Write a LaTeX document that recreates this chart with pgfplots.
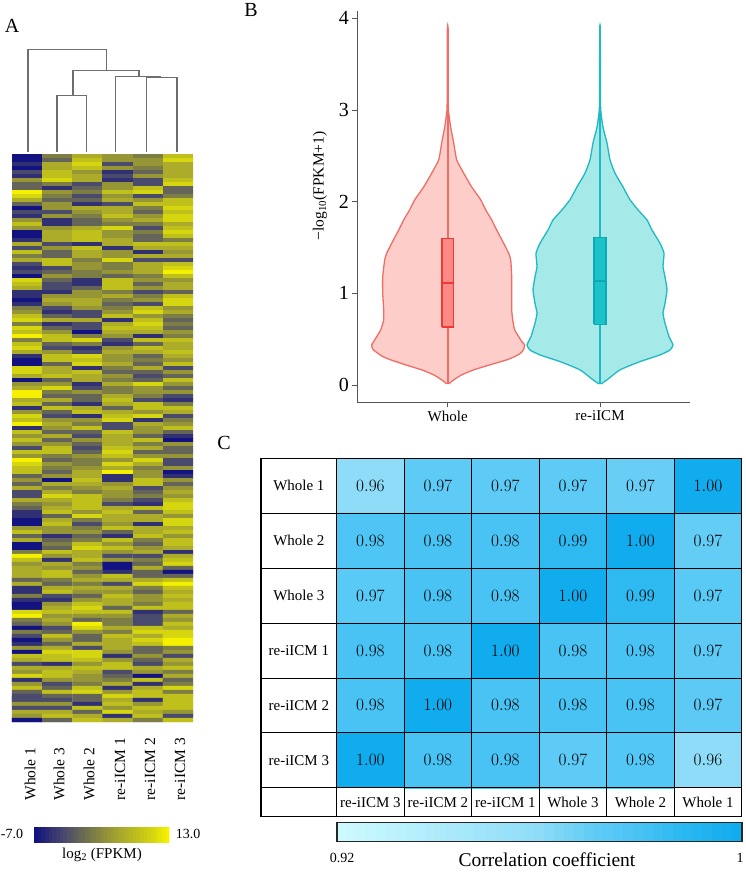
\documentclass[border=0pt]{standalone}
\usepackage{fontspec}
\setmainfont{Liberation Serif}
\usepackage{pgfplots}
\usepackage{pgfplotstable}
\pgfplotsset{compat=1.18}

\definecolor{wfill}{HTML}{FDCDC9}
\definecolor{wline}{HTML}{EE6E66}
\definecolor{wbox}{HTML}{FF8A85}
\definecolor{wmed}{HTML}{EC3A38}
\definecolor{rfill}{HTML}{A6E9E9}
\definecolor{rline}{HTML}{20B8C2}
\definecolor{rbox}{HTML}{18C4C8}
\definecolor{rmed}{HTML}{0FA8B0}
\definecolor{spine}{HTML}{555555}
\definecolor{dend}{HTML}{6E6E6E}

\pgfplotsset{
  colormap={heat}{rgb255=(18,18,128) rgb255=(48,48,115) rgb255=(74,74,108) rgb255=(100,100,88)
    rgb255=(125,125,70) rgb255=(150,150,54) rgb255=(172,172,42) rgb255=(192,192,28)
    rgb255=(214,214,16) rgb255=(244,240,0)},
  colormap={corr}{rgb255(0pt)=(204,250,255); rgb255(40pt)=(143,220,248); rgb255(50pt)=(100,205,246);
    rgb255(60pt)=(72,195,244); rgb255(70pt)=(40,183,240); rgb255(80pt)=(16,172,237)},
}

% colour keys, two rows of samples each
\pgfplotstableread[row sep=crcr]{
v\\
0\\0.25\\0.5\\0.75\\1\\1.25\\1.5\\1.75\\2\\2.25\\2.5\\2.75\\3\\3.25\\3.5\\3.75\\4\\4.25\\4.5\\4.75\\5\\5.25\\5.5\\5.75\\6\\6.25\\6.5\\6.75\\7\\7.25\\7.5\\7.75\\8\\8.25\\8.5\\8.75\\9\\
0\\0.25\\0.5\\0.75\\1\\1.25\\1.5\\1.75\\2\\2.25\\2.5\\2.75\\3\\3.25\\3.5\\3.75\\4\\4.25\\4.5\\4.75\\5\\5.25\\5.5\\5.75\\6\\6.25\\6.5\\6.75\\7\\7.25\\7.5\\7.75\\8\\8.25\\8.5\\8.75\\9\\
}\heatkey

\pgfplotstableread[row sep=crcr]{
v\\
0.92\\0.922\\0.924\\0.926\\0.928\\0.93\\0.932\\0.934\\0.936\\0.938\\0.94\\0.942\\0.944\\0.946\\0.948\\0.95\\0.952\\0.954\\0.956\\0.958\\0.96\\0.962\\0.964\\0.966\\0.968\\0.97\\0.972\\0.974\\0.976\\0.978\\0.98\\0.982\\0.984\\0.986\\0.988\\0.99\\0.992\\0.994\\0.996\\0.998\\1\\
0.92\\0.922\\0.924\\0.926\\0.928\\0.93\\0.932\\0.934\\0.936\\0.938\\0.94\\0.942\\0.944\\0.946\\0.948\\0.95\\0.952\\0.954\\0.956\\0.958\\0.96\\0.962\\0.964\\0.966\\0.968\\0.97\\0.972\\0.974\\0.976\\0.978\\0.98\\0.982\\0.984\\0.986\\0.988\\0.99\\0.992\\0.994\\0.996\\0.998\\1\\
}\corrkey

% heatmap, read row by row (6 columns per row), 0 = navy ... 9 = yellow
\pgfplotstableread[row sep=crcr]{
v\\
0\\4\\6\\5\\4\\7\\
0\\3\\7\\5\\5\\8\\
1\\6\\8\\2\\5\\6\\
0\\6\\7\\5\\4\\6\\
2\\7\\5\\1\\3\\6\\
1\\7\\6\\2\\5\\6\\
5\\8\\6\\1\\2\\7\\
3\\4\\2\\5\\2\\8\\
3\\1\\3\\5\\7\\3\\
9\\5\\4\\7\\8\\3\\
8\\4\\2\\5\\2\\4\\
6\\3\\3\\6\\5\\7\\
3\\5\\1\\2\\7\\7\\
0\\5\\6\\6\\4\\8\\
2\\2\\5\\6\\3\\7\\
1\\5\\4\\7\\5\\8\\
5\\1\\3\\5\\6\\8\\
7\\1\\3\\4\\4\\6\\
5\\5\\6\\8\\2\\7\\
0\\6\\7\\5\\4\\8\\
0\\6\\7\\5\\3\\7\\
1\\6\\7\\6\\3\\4\\
6\\2\\1\\6\\7\\7\\
2\\5\\7\\1\\6\\6\\
7\\3\\6\\5\\1\\5\\
4\\3\\6\\5\\6\\6\\
6\\7\\4\\8\\2\\2\\
2\\7\\5\\4\\6\\7\\
1\\2\\5\\4\\6\\8\\
2\\3\\4\\5\\6\\9\\
0\\5\\4\\3\\4\\7\\
8\\3\\1\\7\\5\\5\\
7\\2\\1\\7\\3\\6\\
6\\2\\3\\7\\5\\6\\
1\\1\\5\\4\\2\\3\\
1\\5\\5\\6\\4\\7\\
0\\6\\6\\4\\5\\8\\
1\\5\\6\\3\\2\\8\\
4\\2\\5\\4\\7\\5\\
5\\1\\2\\5\\8\\6\\
7\\3\\2\\7\\5\\4\\
8\\6\\6\\1\\7\\3\\
4\\1\\2\\6\\8\\4\\
8\\3\\2\\7\\7\\3\\
7\\5\\0\\6\\6\\5\\
9\\7\\4\\5\\1\\4\\
4\\7\\8\\2\\7\\7\\
7\\3\\4\\1\\3\\6\\
8\\2\\1\\5\\7\\6\\
6\\5\\2\\6\\6\\7\\
1\\7\\8\\5\\3\\6\\
0\\7\\7\\5\\4\\5\\
0\\3\\8\\6\\3\\7\\
8\\6\\1\\4\\6\\2\\
8\\6\\7\\3\\3\\5\\
6\\7\\6\\5\\2\\3\\
0\\3\\6\\4\\3\\7\\
5\\5\\1\\6\\8\\5\\
6\\8\\2\\4\\5\\3\\
9\\4\\5\\4\\5\\5\\
9\\3\\3\\6\\4\\2\\
6\\6\\3\\7\\2\\1\\
7\\3\\1\\6\\7\\4\\
1\\7\\6\\3\\7\\7\\
5\\3\\7\\6\\5\\6\\
8\\2\\1\\7\\8\\2\\
7\\5\\5\\8\\1\\4\\
9\\6\\4\\2\\6\\5\\
1\\5\\7\\2\\5\\7\\
7\\3\\3\\7\\5\\3\\
5\\6\\2\\6\\3\\1\\
7\\3\\5\\6\\7\\0\\
5\\5\\3\\6\\4\\5\\
2\\7\\2\\7\\6\\3\\
7\\7\\3\\8\\3\\3\\
5\\4\\5\\7\\5\\5\\
9\\3\\4\\5\\8\\2\\
8\\5\\4\\8\\6\\2\\
7\\4\\5\\6\\4\\5\\
7\\3\\6\\9\\5\\0\\
3\\5\\6\\1\\5\\1\\
5\\0\\7\\1\\7\\5\\
3\\6\\6\\5\\7\\3\\
6\\4\\5\\6\\2\\5\\
2\\6\\4\\5\\3\\6\\
2\\8\\7\\5\\4\\5\\
6\\6\\7\\4\\2\\7\\
4\\5\\7\\2\\1\\8\\
3\\6\\7\\6\\7\\8\\
1\\7\\5\\7\\3\\7\\
1\\3\\8\\6\\6\\5\\
0\\6\\4\\6\\6\\8\\
0\\7\\2\\5\\1\\8\\
5\\5\\4\\7\\6\\6\\
7\\5\\5\\3\\6\\7\\
3\\1\\3\\1\\7\\5\\
6\\3\\4\\7\\4\\7\\
0\\4\\7\\5\\3\\7\\
0\\3\\8\\7\\5\\6\\
4\\7\\6\\5\\6\\1\\
9\\5\\6\\2\\2\\6\\
7\\1\\7\\5\\4\\7\\
5\\6\\4\\0\\3\\8\\
6\\5\\5\\0\\6\\3\\
6\\7\\3\\1\\3\\0\\
6\\7\\5\\7\\3\\3\\
3\\4\\6\\6\\6\\7\\
6\\3\\4\\2\\8\\9\\
1\\6\\6\\6\\4\\7\\
1\\7\\5\\5\\3\\6\\
4\\2\\3\\7\\5\\7\\
1\\1\\5\\6\\5\\6\\
0\\5\\7\\6\\4\\7\\
0\\6\\8\\3\\7\\7\\
8\\7\\7\\7\\1\\3\\
9\\5\\5\\5\\2\\6\\
4\\6\\3\\4\\2\\5\\
3\\5\\9\\4\\2\\7\\
0\\2\\8\\6\\7\\6\\
4\\3\\5\\4\\8\\8\\
2\\7\\3\\7\\6\\8\\
0\\5\\3\\6\\8\\9\\
1\\3\\6\\6\\7\\9\\
5\\6\\2\\6\\3\\4\\
0\\8\\8\\5\\3\\5\\
7\\7\\8\\1\\5\\2\\
6\\7\\7\\5\\3\\6\\
2\\1\\5\\7\\2\\5\\
6\\6\\7\\7\\6\\7\\
5\\7\\6\\2\\5\\4\\
8\\7\\5\\3\\0\\6\\
1\\5\\5\\4\\7\\3\\
5\\2\\4\\6\\1\\4\\
7\\3\\7\\1\\6\\8\\
3\\7\\8\\5\\7\\4\\
2\\3\\3\\8\\7\\7\\
2\\2\\3\\6\\1\\7\\
5\\5\\1\\7\\5\\7\\
2\\2\\7\\5\\7\\7\\
6\\6\\3\\8\\6\\5\\
5\\7\\6\\1\\7\\2\\
0\\3\\7\\6\\4\\7\\
}\heatdata

% violin outlines: half width in px from the centre, value
\pgfplotstableread{
x y
1 0.01
6 0.055
14 0.109
26 0.164
42 0.218
59 0.273
67 0.309
73 0.346
76 0.389
77 0.436
74 0.473
71 0.527
67 0.6
65 0.709
64 0.818
64 1.0
64 1.18
63 1.364
61 1.436
56 1.545
49 1.69
44 1.8
38 1.91
33 2.02
24 2.16
16 2.31
9 2.455
6 2.64
3 2.81
1 2.97
0.6 3.03
0.4 3.29
0.3 3.89
-0.3 3.89
-0.4 3.29
-0.6 3.03
-1 2.97
-3 2.81
-6 2.64
-9 2.455
-16 2.31
-24 2.16
-33 2.02
-38 1.91
-44 1.8
-49 1.69
-56 1.545
-61 1.436
-63 1.364
-65 1.18
-65 1.0
-64 0.818
-64 0.709
-67 0.6
-71 0.527
-74 0.473
-76 0.436
-75 0.389
-70 0.346
-65 0.309
-57 0.273
-42 0.218
-26 0.164
-14 0.109
-6 0.055
-1 0.01
}\violinwhole

\pgfplotstableread{
x y
1 0.01
7 0.055
20 0.164
40 0.254
60 0.327
70 0.38
73 0.436
69 0.527
65 0.673
63 0.782
65 0.89
67 1.036
65 1.18
63 1.29
64 1.436
60 1.545
52 1.69
47 1.8
38 1.91
30 2.02
23 2.16
15 2.31
10 2.455
7 2.64
3 2.81
1 2.97
0.6 3.03
0.4 3.29
0.3 3.89
-0.3 3.89
-0.4 3.29
-0.6 3.03
-1 2.97
-3 2.81
-7 2.64
-10 2.455
-15 2.31
-23 2.16
-30 2.02
-38 1.91
-47 1.8
-52 1.69
-60 1.545
-64 1.436
-63 1.29
-65 1.18
-67 1.036
-65 0.89
-63 0.782
-65 0.673
-69 0.527
-73 0.436
-70 0.38
-60 0.327
-40 0.254
-20 0.164
-7 0.055
-1 0.01
}\violinre

% correlation matrix, column, row, value
\pgfplotstableread{
x y v
0 0 0.96
1 0 0.972
2 0 0.972
3 0 0.972
4 0 0.969
5 0 1.0
0 1 0.978
1 1 0.98
2 1 0.98
3 1 0.988
4 1 1.0
5 1 0.97
0 2 0.974
1 2 0.98
2 2 0.98
3 2 1.0
4 2 0.988
5 2 0.974
0 3 0.98
1 3 0.98
2 3 1.0
3 3 0.98
4 3 0.98
5 3 0.973
0 4 0.98
1 4 1.0
2 4 0.98
3 4 0.98
4 4 0.98
5 4 0.973
0 5 1.0
1 5 0.98
2 5 0.98
3 5 0.972
4 5 0.976
5 5 0.96
}\corrdata

\begin{document}
\begin{tikzpicture}
\useasboundingbox (0pt,0pt) rectangle (745pt,872pt);

% A: heatmap
\begin{axis}[
  at={(12pt,150pt)}, anchor=south west,
  scale only axis, width=181pt, height=568pt,
  hide axis,
  xmin=-0.5, xmax=5.5, ymin=-0.5, ymax=141.5, y dir=reverse,
  colormap name=heat, point meta min=0, point meta max=9,
]
\addplot[matrix plot*, mesh/cols=6, point meta=explicit, draw=mapped color, line width=0.1pt]
  table[x index=0, y index=0, x expr={mod(\coordindex,6)}, y expr={floor((\coordindex+0.5)/6)}, meta=v] {\heatdata};
\end{axis}

% heatmap key
\begin{axis}[
  at={(34pt,29.7pt)}, anchor=south west,
  scale only axis, width=135.3pt, height=15.6pt,
  hide axis,
  xmin=-0.5, xmax=36.5, ymin=-0.5, ymax=1.5,
  colormap name=heat, point meta min=0, point meta max=9,
]
\addplot[matrix plot*, mesh/cols=37, point meta=explicit, draw=mapped color, line width=0.1pt]
  table[x index=0, y index=0, x expr={mod(\coordindex,37)}, y expr={floor((\coordindex+0.5)/37)}, meta=v] {\heatkey};
\end{axis}

% B: violins
\begin{axis}[
  at={(357.3pt,469.7pt)}, anchor=south west,
  scale only axis, width=332.7pt, height=391.3pt,
  xmin=-90.4, xmax=242.3, ymin=-0.19, ymax=4.08,
  axis x line*=bottom, axis y line*=left,
  axis line style={-, draw=spine, line width=0.9pt},
  xtick={0,152.3}, xticklabels={Whole,re-iICM},
  ytick={0,1,2,3,4},
  tick style={draw=spine, line width=0.7pt},
  tick align=outside, major tick length=5pt,
  /pgf/number format/assume math mode=true,
  xticklabel style={font=\fontsize{15}{17}\selectfont},
  yticklabel style={font=\fontsize{20}{22}\selectfont},
  ylabel={−log\textsubscript{10}(FPKM+1)},
  ylabel style={font=\fontsize{15.5}{17}\selectfont, at={(axis description cs:-0.112,0.553)}, anchor=center},
  clip=false,
]
\addplot[draw=wline, fill=wfill, line width=1.3pt, smooth, tension=0.3] table[x=x, y=y] {\violinwhole};
\addplot[draw=rline, fill=rfill, line width=1.3pt, smooth, tension=0.3] table[x expr=\thisrow{x}+152.3, y=y] {\violinre};
\addplot[draw=wline, line width=1.6pt] coordinates {(0,0.01) (0,3.89)};
\addplot[draw=rline, line width=1.6pt] coordinates {(152.3,0.01) (152.3,3.89)};
\addplot[draw=wmed, fill=wbox, line width=1.3pt] coordinates {(-5.8,0.63) (5.8,0.63) (5.8,1.6) (-5.8,1.6) (-5.8,0.63)};
\addplot[draw=wmed, line width=1.8pt] coordinates {(-5.8,1.11) (5.8,1.11)};
\addplot[draw=rmed, fill=rbox, line width=1.3pt] coordinates {(146.3,0.66) (158.3,0.66) (158.3,1.607) (146.3,1.607) (146.3,0.66)};
\addplot[draw=rmed, line width=1.8pt] coordinates {(146.3,1.13) (158.3,1.13)};
\end{axis}

% C: correlation table
\begin{axis}[
  at={(261pt,55.3pt)}, anchor=south west,
  scale only axis, width=480.7pt, height=358.4pt,
  xmin=-1.621, xmax=5.5, ymin=-0.5, ymax=6.028, y dir=reverse,
  xtick={-0.5,0.5,1.5,2.5,3.5,4.5}, ytick={0.5,1.5,2.5,3.5,4.5,5.5},
  xticklabels={}, yticklabels={},
  grid=major, grid style={draw=black, line width=0.7pt},
  major tick length=0pt,
  axis on top,
  axis line style={draw=black, line width=1.4pt},
  colormap name=corr, point meta min=0.92, point meta max=1,
  nodes near coords={\pgfmathprintnumber[fixed, fixed zerofill, precision=2]{\pgfplotspointmeta}},
  nodes near coords style={anchor=center, text=black, font=\fontsize{17}{19}\selectfont},
  clip=false,
]
\addplot[matrix plot*, mesh/cols=6, point meta=explicit, draw=none] table[x=x, y=y, meta=v] {\corrdata};
\foreach \lab [count=\i from 0] in {Whole 1,Whole 2,Whole 3,re-iICM 1,re-iICM 2,re-iICM 3} {
  \edef\tmp{\noexpand\node[font=\noexpand\fontsize{15}{17}\noexpand\selectfont] at (axis cs:-1.06,\i) {\lab};}
  \tmp
}
\foreach \lab [count=\i from 0] in {re-iICM 3,re-iICM 2,re-iICM 1,Whole 3,Whole 2,Whole 1} {
  \edef\tmp{\noexpand\node[font=\noexpand\fontsize{15}{17}\noexpand\selectfont] at (axis cs:\i,5.764) {\lab};}
  \tmp
}
\end{axis}

% correlation key
\begin{axis}[
  at={(336.7pt,30.3pt)}, anchor=south west,
  scale only axis, width=405pt, height=19pt,
  xmin=-0.5, xmax=40.5, ymin=-0.5, ymax=1.5,
  xtick=\empty, ytick=\empty,
  axis on top,
  axis line style={draw=black!85, line width=1.6pt},
  colormap name=corr, point meta min=0.92, point meta max=1,
]
\addplot[matrix plot*, mesh/cols=41, point meta=explicit, draw=mapped color, line width=0.1pt]
  table[x index=0, y index=0, x expr={mod(\coordindex,41)}, y expr={floor((\coordindex+0.5)/41)}, meta=v] {\corrkey};
\end{axis}

% page overlay in image pixels: dendrogram and loose labels
\begin{axis}[
  at={(0pt,0pt)}, anchor=south west,
  scale only axis, width=745pt, height=872pt,
  hide axis, clip=false,
  xmin=0, xmax=745, ymin=0, ymax=872, y dir=reverse,
]
\addplot[draw=dend, line width=1.3pt] coordinates {(28,151.7) (28,49.3) (106.3,49.3) (106.3,70.7)};
\addplot[draw=dend, line width=1.3pt] coordinates {(73,95.7) (73,70.7) (139,70.7) (139,76.7)};
\addplot[draw=dend, line width=1.3pt] coordinates {(57,151.7) (57,95.7) (86.3,95.7) (86.3,151.7)};
\addplot[draw=dend, line width=1.3pt] coordinates {(115.3,151.7) (115.3,76.7) (161,76.7)};
\addplot[draw=dend, line width=1.3pt] coordinates {(146.7,151.7) (146.7,77.7) (177,77.7) (177,151.7)};

\node[font=\fontsize{20}{22}\selectfont] at (axis cs:12,26) {A};
\node[font=\fontsize{20}{22}\selectfont] at (axis cs:251,10) {B};
\node[font=\fontsize{20}{22}\selectfont] at (axis cs:224,443) {C};

\node[rotate=90, anchor=west, font=\fontsize{15.5}{17}\selectfont] at (axis cs:30,804) {Whole 1};
\node[rotate=90, anchor=west, font=\fontsize{15.5}{17}\selectfont] at (axis cs:59,804) {Whole 3};
\node[rotate=90, anchor=west, font=\fontsize{15.5}{17}\selectfont] at (axis cs:89,804) {Whole 2};
\node[rotate=90, anchor=west, font=\fontsize{15.5}{17}\selectfont] at (axis cs:120,804) {re-iICM 1};
\node[rotate=90, anchor=west, font=\fontsize{15.5}{17}\selectfont] at (axis cs:150,804) {re-iICM 2};
\node[rotate=90, anchor=west, font=\fontsize{15.5}{17}\selectfont] at (axis cs:180,804) {re-iICM 3};

\node[font=\fontsize{14}{16}\selectfont] at (axis cs:12,834) {-7.0};
\node[font=\fontsize{14}{16}\selectfont] at (axis cs:188,834) {13.0};
\node[font=\fontsize{15}{17}\selectfont] at (axis cs:102,855) {log\textsubscript{2} (FPKM)};
\node[font=\fontsize{14}{16}\selectfont] at (axis cs:342,858) {0.92};
\node[font=\fontsize{14}{16}\selectfont] at (axis cs:740,858) {1};
\node[font=\fontsize{19.5}{21}\selectfont] at (axis cs:547,860) {Correlation coefficient};
\end{axis}
\end{tikzpicture}
\end{document}
